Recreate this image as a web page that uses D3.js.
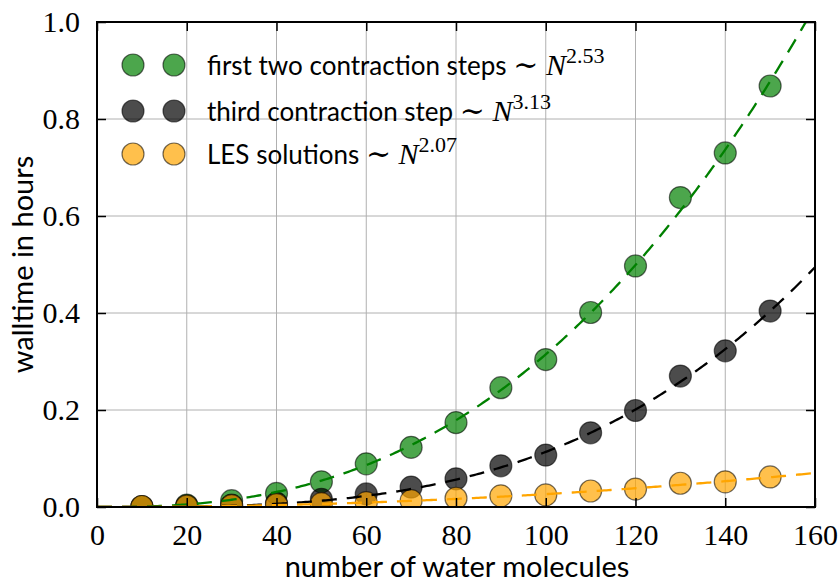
<!DOCTYPE html>
<html>
<head>
<meta charset="utf-8">
<script src="https://cdn.jsdelivr.net/npm/d3@7"></script>
<style>
  html, body { margin: 0; padding: 0; background: #fff; }
  svg { display: block; }
</style>
</head>
<body>
<svg id="chart" width="838" height="585"></svg>
<script>
// Molecule counts and measured walltimes (hours)
const molecules = [10, 20, 30, 40, 50, 60, 70, 80, 90, 100, 110, 120, 130, 140, 150];
const firstTwoSteps = [0.001, 0.004, 0.013, 0.028, 0.052, 0.089, 0.123, 0.174, 0.246, 0.304, 0.401, 0.497, 0.638, 0.730, 0.868];
const thirdStep = [0.0005, 0.002, 0.004, 0.008, 0.016, 0.027, 0.041, 0.058, 0.085, 0.107, 0.153, 0.199, 0.270, 0.322, 0.404];
const lesSolutions = [0.001, 0.002, 0.003, 0.005, 0.007, 0.009, 0.013, 0.018, 0.023, 0.025, 0.033, 0.037, 0.049, 0.052, 0.062];

// Power-law fits  t = a * N^b
const fitExponents = [2.53, 3.13, 2.07];
const fitPrefactors = [2.74e-6, 6.24e-8, 1.92e-6];

const xTicks = [0, 20, 40, 60, 80, 100, 120, 140, 160];
const yTicks = [0.0, 0.2, 0.4, 0.6, 0.8, 1.0];
const legendLabels = ["first two contraction steps", "third contraction step", "LES solutions"];

const series = [
  { values: firstTwoSteps, fill: "green", line: "#008000" },
  { values: thirdStep, fill: "black", line: "#000000" },
  { values: lesSolutions, fill: "orange", line: "#FFA500" }
];

const W = 838, H = 585;
const margin = { top: 22, right: 23, bottom: 78, left: 97 };
const iw = W - margin.left - margin.right;
const ih = H - margin.top - margin.bottom;

const svg = d3.select("#chart");
const x = d3.scaleLinear().domain([0, 160]).range([0, iw]);
const y = d3.scaleLinear().domain([0, 1]).range([ih, 0]);

const g = svg.append("g").attr("transform", `translate(${margin.left},${margin.top})`);

svg.append("defs").append("clipPath").attr("id", "plotclip")
  .append("rect").attr("x", 0).attr("y", 0).attr("width", iw).attr("height", ih);

// grid
g.append("g").selectAll("line").data(xTicks).join("line")
  .attr("x1", d => x(d)).attr("x2", d => x(d)).attr("y1", 0).attr("y2", ih)
  .attr("stroke", "#b0b0b0").attr("stroke-width", 1);
g.append("g").selectAll("line").data(yTicks).join("line")
  .attr("y1", d => y(d)).attr("y2", d => y(d)).attr("x1", 0).attr("x2", iw)
  .attr("stroke", "#b0b0b0").attr("stroke-width", 1);

const plot = g.append("g").attr("clip-path", "url(#plotclip)");

// scatter markers
series.forEach(s => {
  plot.append("g").selectAll("circle").data(molecules).join("circle")
    .attr("cx", d => x(d)).attr("cy", (d, i) => y(s.values[i])).attr("r", 11)
    .attr("fill", s.fill).attr("fill-opacity", 0.7)
    .attr("stroke", "#000").attr("stroke-opacity", 0.55).attr("stroke-width", 1.2);
});

// fitted power laws
const fitN = d3.range(0, 160.5, 0.5);
series.forEach((s, k) => {
  const line = d3.line()
    .x(n => x(n))
    .y(n => y(fitPrefactors[k] * Math.pow(n, fitExponents[k])));
  plot.append("path").datum(fitN)
    .attr("d", line).attr("fill", "none")
    .attr("stroke", s.line).attr("stroke-width", 2.3)
    .attr("stroke-dasharray", "15,10");
});

// axes: ticks point inward on all four sides
const tickLen = 9;
const axB = d3.axisBottom(x).tickValues(xTicks).tickSize(-tickLen).tickPadding(tickLen + 8);
const axL = d3.axisLeft(y).tickValues(yTicks).tickSize(-tickLen).tickPadding(tickLen + 8).tickFormat(d3.format(".1f"));
const axT = d3.axisTop(x).tickValues(xTicks).tickSize(-tickLen).tickFormat("");
const axR = d3.axisRight(y).tickValues(yTicks).tickSize(-tickLen).tickFormat("");

const serif = "'Liberation Serif', 'DejaVu Serif', serif";
const sans = "Lato, 'DejaVu Sans', sans-serif";

function styleAxis(sel) {
  sel.select(".domain").remove();
  sel.selectAll(".tick line").attr("stroke", "#000").attr("stroke-width", 1.5);
  sel.selectAll(".tick text").attr("fill", "#000").style("font-family", serif).style("font-size", "30px");
}
g.append("g").attr("transform", `translate(0,${ih})`).call(axB).call(styleAxis);
g.append("g").call(axL).call(styleAxis);
g.append("g").call(axT).call(styleAxis);
g.append("g").attr("transform", `translate(${iw},0)`).call(axR).call(styleAxis);

// frame
g.append("rect").attr("x", 0).attr("y", 0).attr("width", iw).attr("height", ih)
  .attr("fill", "none").attr("stroke", "#000").attr("stroke-width", 2);

// axis labels
svg.append("text").attr("x", margin.left + iw / 2 + 1).attr("y", 577)
  .attr("text-anchor", "middle").style("font-family", sans).style("font-size", "29px")
  .text("number of water molecules");
svg.append("text").attr("transform", `translate(33,${margin.top + ih / 2}) rotate(-90)`)
  .attr("text-anchor", "middle").style("font-family", sans).style("font-size", "29px")
  .text("walltime in hours");

// legend
const legendRows = [65, 111, 154];
const leg = svg.append("g");
series.forEach((s, k) => {
  const ly = legendRows[k];
  [133, 174].forEach(cx => {
    leg.append("circle").attr("cx", cx).attr("cy", ly).attr("r", 11)
      .attr("fill", s.fill).attr("fill-opacity", 0.7)
      .attr("stroke", "#000").attr("stroke-opacity", 0.55).attr("stroke-width", 1.2);
  });
  const t = leg.append("text").attr("x", 207).attr("y", ly + 10)
    .style("font-family", sans).style("font-size", "26px").attr("fill", "#000");
  t.append("tspan").text(legendLabels[k] + " ");
  t.append("tspan").style("font-family", serif).style("font-size", "30px").text("\u223C ");
  t.append("tspan").style("font-family", serif).style("font-style", "italic").style("font-size", "30px").text("N");
  t.append("tspan").style("font-family", serif).style("font-size", "22px").attr("dy", -12)
    .text(fitExponents[k].toFixed(2));
});
</script>
</body>
</html>
